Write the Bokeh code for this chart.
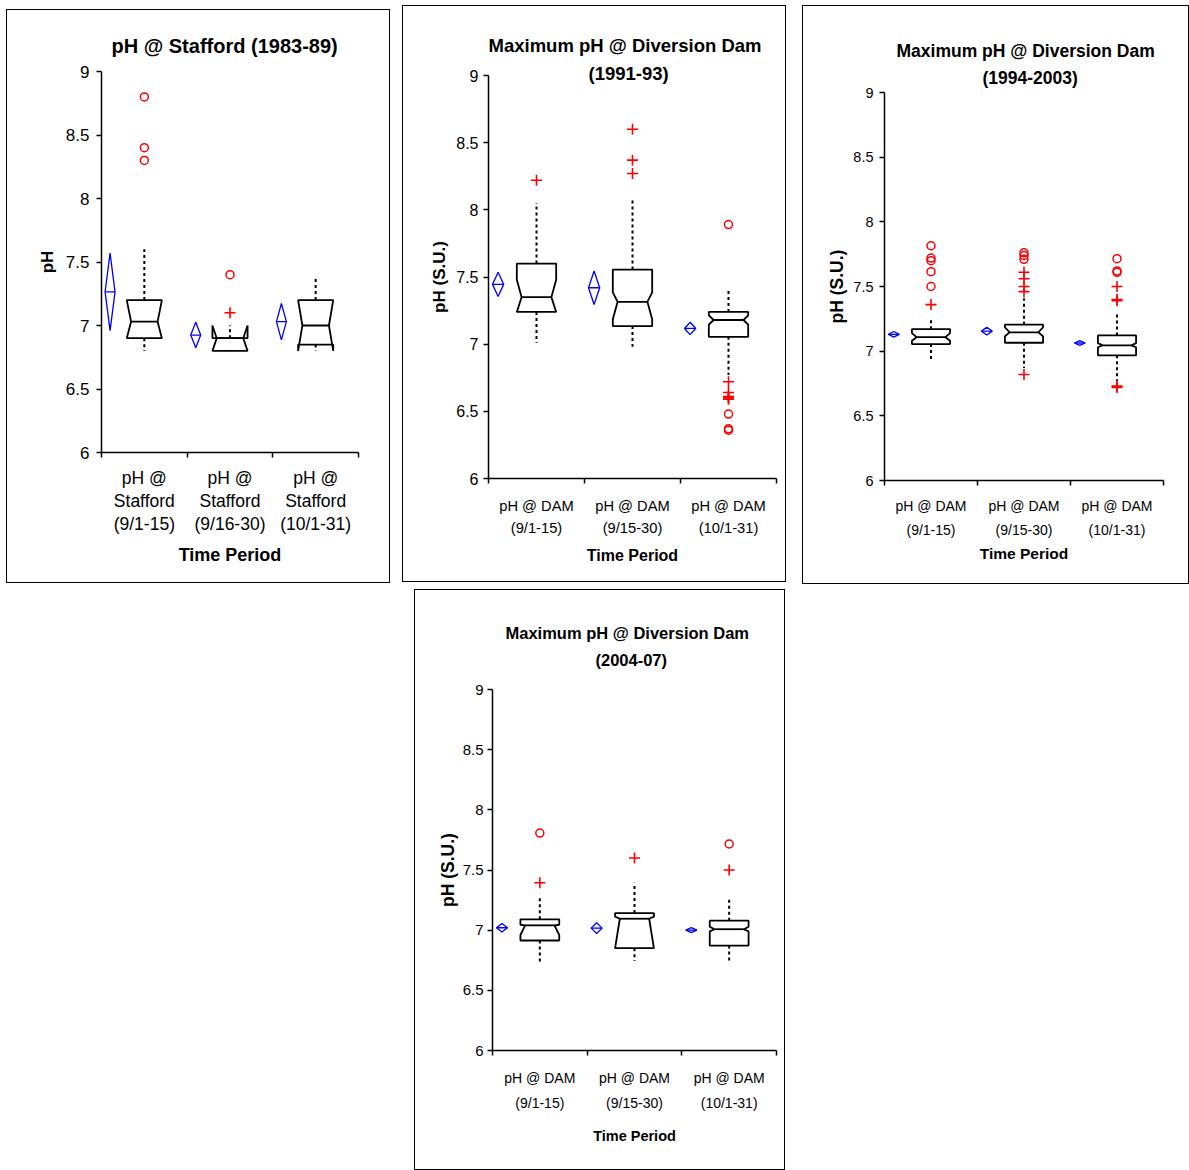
from bokeh.plotting import figure
from bokeh.models import Range1d, FixedTicker, CustomJSTickFormatter, Title
from bokeh.layouts import row, column
from bokeh.embed import file_html
from bokeh.resources import INLINE

# ---------------- data ----------------
Y_TICKS = [6.0, 6.5, 7.0, 7.5, 8.0, 8.5, 9.0]
CAT_CENTERS = [0.5, 1.5, 2.5]
CAT_EDGES = [0, 1, 2, 3]
X_TITLE = "Time Period"

# Panel 1: Stafford 1983-89
P1_TITLE = ["pH @ Stafford (1983-89)"]
P1_YLABEL = "pH"
P1_CATS = ["pH @\nStafford\n(9/1-15)", "pH @\nStafford\n(9/16-30)", "pH @\nStafford\n(10/1-31)"]
P1_MEAN = [7.265, 6.925, 7.03]
P1_MEAN_CI = [0.305, 0.10, 0.143]
P1_Q1 = [6.90, 6.80, 6.85]
P1_MED = [7.03, 6.90, 7.00]
P1_Q3 = [7.20, 6.90, 7.20]
P1_NOTCH_LO = [6.90, 6.80, 6.80]
P1_NOTCH_HI = [7.20, 7.00, 7.20]
P1_WHISK_LO = [6.80, 6.80, 6.80]
P1_WHISK_HI = [7.60, 7.00, 7.38]
P1_MILD_CAT = [1]
P1_MILD_VAL = [7.10]
P1_EXT_CAT = [0, 0, 0, 1]
P1_EXT_VAL = [8.80, 8.40, 8.30, 7.40]

# Panel 2: Diversion Dam 1991-93
P2_TITLE = ["Maximum pH @ Diversion Dam", "(1991-93)"]
P2_YLABEL = "pH (S.U.)"
P2_CATS = ["pH @ DAM\n(9/1-15)", "pH @ DAM\n(9/15-30)", "pH @ DAM\n(10/1-31)"]
P2_MEAN = [7.445, 7.42, 7.117]
P2_MEAN_CI = [0.09, 0.125, 0.046]
P2_Q1 = [7.24, 7.135, 7.055]
P2_MED = [7.35, 7.315, 7.18]
P2_Q3 = [7.60, 7.555, 7.24]
P2_NOTCH_LO = [7.24, 7.185, 7.145]
P2_NOTCH_HI = [7.48, 7.385, 7.215]
P2_WHISK_LO = [7.01, 6.98, 6.77]
P2_WHISK_HI = [8.05, 8.08, 7.40]
P2_MILD_CAT = [0, 1, 1, 1, 2, 2, 2, 2, 2]
P2_MILD_VAL = [8.22, 8.60, 8.37, 8.27, 6.72, 6.64, 6.61, 6.60, 6.59]
P2_EXT_CAT = [2, 2, 2, 2]
P2_EXT_VAL = [7.89, 6.48, 6.37, 6.36]

# Panel 3: Diversion Dam 1994-2003
P3_TITLE = ["Maximum pH @ Diversion Dam", "(1994-2003)"]
P3_YLABEL = "pH (S.U.)"
P3_CATS = ["pH @ DAM\n(9/1-15)", "pH @ DAM\n(9/15-30)", "pH @ DAM\n(10/1-31)"]
P3_MEAN = [7.13, 7.155, 7.063]
P3_MEAN_CI = [0.022, 0.03, 0.018]
P3_Q1 = [7.055, 7.065, 6.968]
P3_MED = [7.108, 7.145, 7.045]
P3_Q3 = [7.17, 7.205, 7.122]
P3_NOTCH_LO = [7.08, 7.115, 7.03]
P3_NOTCH_HI = [7.14, 7.185, 7.062]
P3_WHISK_LO = [6.93, 6.87, 6.77]
P3_WHISK_HI = [7.26, 7.41, 7.29]
P3_MILD_CAT = [0, 1, 1, 1, 1, 1, 2, 2, 2, 2, 2]
P3_MILD_VAL = [7.36, 7.61, 7.56, 7.50, 7.46, 6.82, 7.50, 7.40, 7.39, 6.73, 6.72]
P3_EXT_CAT = [0, 0, 0, 0, 0, 1, 1, 1, 2, 2, 2]
P3_EXT_VAL = [7.815, 7.72, 7.70, 7.615, 7.50, 7.76, 7.74, 7.71, 7.715, 7.62, 7.61]

# Panel 4: Diversion Dam 2004-07
P4_TITLE = ["Maximum pH @ Diversion Dam", "(2004-07)"]
P4_YLABEL = "pH (S.U.)"
P4_CATS = ["pH @ DAM\n(9/1-15)", "pH @ DAM\n(9/15-30)", "pH @ DAM\n(10/1-31)"]
P4_MEAN = [7.02, 7.017, 7.0]
P4_MEAN_CI = [0.036, 0.045, 0.021]
P4_Q1 = [6.914, 6.85, 6.872]
P4_MED = [7.04, 7.095, 7.008]
P4_Q3 = [7.09, 7.142, 7.079]
P4_NOTCH_LO = [6.96, 6.85, 6.99]
P4_NOTCH_HI = [7.045, 7.112, 7.029]
P4_WHISK_LO = [6.715, 6.743, 6.73]
P4_WHISK_HI = [7.274, 7.394, 7.263]
P4_MILD_CAT = [0, 1, 2]
P4_MILD_VAL = [7.394, 7.60, 7.50]
P4_EXT_CAT = [0, 2]
P4_EXT_VAL = [7.807, 7.716]

# ---------------- style / layout ----------------
BOX_HALF = 0.205
NOTCH_IN = 0.05
DIAM_OFF = 0.10
DIAM_HALF = 0.058
RED = "#ff0000"
BLUE = "#0000ff"
FONT = "Liberation Sans"

LAYOUTS = {
    1: dict(w=384, h=574, margin=(9, 0, 0, 6), ml=94, mr=33, mt=61, mb=132,
            title_size="20px", title_standoffs=[29], title_offsets=[10],
            tick_size="17.5px", ytick_size="17px", xlab_lh=1.17, xlab_standoff=10, ylab_standoff=7,
            axis_lab_size="18px", ylab_size="17px", yaxis_lab_standoff=6, xaxis_lab_standoff=8),
    2: dict(w=384, h=577, margin=(5, 0, 0, 12), ml=85, mr=11, mt=69, mb=105,
            title_size="18.5px", title_standoffs=[25, -16], title_offsets=[0, 100],
            tick_size="14.7px", ytick_size="16px", xlab_lh=1.4, xlab_standoff=14, ylab_standoff=5,
            axis_lab_size="16px", ylab_size="17px", yaxis_lab_standoff=4, xaxis_lab_standoff=8),
    3: dict(w=387, h=579, margin=(5, 0, 0, 16), ml=81, mr=27, mt=86, mb=105,
            title_size="17.5px", title_standoffs=[0, 10], title_offsets=[12, 98],
            tick_size="14px", ytick_size="14.5px", xlab_lh=1.53, xlab_standoff=12, ylab_standoff=6,
            axis_lab_size="15.5px", ylab_size="17.5px", yaxis_lab_standoff=3, xaxis_lab_standoff=4),
    4: dict(w=371, h=581, margin=(7, 0, 0, 24), ml=77, mr=10, mt=99, mb=121,
            title_size="16.5px", title_standoffs=[-29, 42], title_offsets=[13, 103],
            tick_size="14px", ytick_size="15px", xlab_lh=1.57, xlab_standoff=14, ylab_standoff=4,
            axis_lab_size="14.5px", ylab_size="17.5px", yaxis_lab_standoff=2, xaxis_lab_standoff=14),
}


def style_title(t, lay, i):
    t.align = "left"
    t.offset = lay["title_offsets"][i]
    t.standoff = lay["title_standoffs"][i]
    t.text_font = FONT
    t.text_font_size = lay["title_size"]
    t.text_font_style = "bold"
    t.text_color = "black"


def make_panel(lay, title, ylabel, cats, mean, ci, q1, med, q3, nlo, nhi, wlo, whi,
               mild_c, mild_v, ext_c, ext_v):
    p = figure(width=lay["w"], height=lay["h"], x_range=Range1d(0, 3), y_range=Range1d(6, 9),
               output_backend="svg", toolbar_location=None,
               min_border_left=lay["ml"], min_border_right=lay["mr"],
               min_border_top=lay["mt"], min_border_bottom=lay["mb"])
    p.margin = lay["margin"]
    p.styles = {"border": "1px solid black"}
    p.outline_line_color = None
    p.grid.visible = False
    p.background_fill_color = "white"
    p.border_fill_color = "white"

    # title lines: first line is the plot title, second line sits nearer the frame
    p.title.text = title[0]
    style_title(p.title, lay, 0)
    if len(title) > 1:
        t2 = Title(text=title[1])
        style_title(t2, lay, 1)
        p.add_layout(t2, "above")

    centers = [c for c in CAT_CENTERS]

    # whiskers (dotted)
    p.segment(x0=centers, y0=q3, x1=centers, y1=whi, line_color="black", line_width=2, line_dash="3 3")
    p.segment(x0=centers, y0=q1, x1=centers, y1=wlo, line_color="black", line_width=2, line_dash="3 3")

    # notched boxes
    xs, ys = [], []
    for i, c in enumerate(centers):
        L, R = c - BOX_HALF, c + BOX_HALF
        xs.append([L, R, R, R - NOTCH_IN, R, R, L, L, L + NOTCH_IN, L])
        ys.append([q1[i], q1[i], nlo[i], med[i], nhi[i], q3[i], q3[i], nhi[i], med[i], nlo[i]])
    p.patches(xs, ys, fill_color="white", line_color="black", line_width=1.8)
    p.segment(x0=[c - BOX_HALF + NOTCH_IN for c in centers], y0=med,
              x1=[c + BOX_HALF - NOTCH_IN for c in centers], y1=med,
              line_color="black", line_width=1.8)

    # mean diamonds
    dx = [c - 0.5 + DIAM_OFF for c in centers]
    dxs = [[d - DIAM_HALF, d, d + DIAM_HALF, d] for d in dx]
    dys = [[m, m + h, m, m - h] for m, h in zip(mean, ci)]
    p.patches(dxs, dys, fill_color=None, line_color=BLUE, line_width=1.3)
    p.segment(x0=[d - DIAM_HALF for d in dx], y0=mean, x1=[d + DIAM_HALF for d in dx], y1=mean,
              line_color=BLUE, line_width=1.3)

    # outliers
    p.scatter(x=[CAT_CENTERS[c] for c in mild_c], y=mild_v, marker="cross", size=11,
              line_color=RED, line_width=1.6)
    p.scatter(x=[CAT_CENTERS[c] for c in ext_c], y=ext_v, marker="circle", size=8,
              fill_color=None, line_color=RED, line_width=1.5)

    # x axis
    xa = p.xaxis[0]
    xa.ticker = FixedTicker(ticks=CAT_CENTERS, minor_ticks=CAT_EDGES)
    xa.formatter = CustomJSTickFormatter(args=dict(labels=cats),
                                         code="return labels[Math.floor(tick)];")
    xa.major_tick_in = 0
    xa.major_tick_out = 0
    xa.minor_tick_in = 0
    xa.minor_tick_out = 5
    xa.minor_tick_line_color = "black"
    xa.minor_tick_line_width = 1.5
    xa.axis_line_color = "black"
    xa.axis_line_width = 1.5
    xa.major_label_text_font = FONT
    xa.major_label_text_font_size = lay["tick_size"]
    xa.major_label_text_color = "black"
    xa.major_label_text_line_height = lay["xlab_lh"]
    xa.major_label_standoff = lay["xlab_standoff"]
    xa.axis_label = X_TITLE
    xa.axis_label_text_font = FONT
    xa.axis_label_text_font_size = lay["axis_lab_size"]
    xa.axis_label_text_font_style = "bold"
    xa.axis_label_text_color = "black"
    xa.axis_label_standoff = lay["xaxis_lab_standoff"]

    # y axis
    ya = p.yaxis[0]
    ya.ticker = FixedTicker(ticks=Y_TICKS)
    ya.formatter = CustomJSTickFormatter(code="return String(tick);")
    ya.minor_tick_line_color = None
    ya.major_tick_in = 0
    ya.major_tick_out = 5
    ya.major_tick_line_color = "black"
    ya.major_tick_line_width = 1.5
    ya.axis_line_color = "black"
    ya.axis_line_width = 1.5
    ya.major_label_text_font = FONT
    ya.major_label_text_font_size = lay["ytick_size"]
    ya.major_label_text_color = "black"
    ya.major_label_standoff = lay["ylab_standoff"]
    ya.axis_label = ylabel
    ya.axis_label_text_font = FONT
    ya.axis_label_text_font_size = lay["ylab_size"]
    ya.axis_label_text_font_style = "bold"
    ya.axis_label_text_color = "black"
    ya.axis_label_standoff = lay["yaxis_lab_standoff"]
    return p


p1 = make_panel(LAYOUTS[1], P1_TITLE, P1_YLABEL, P1_CATS, P1_MEAN, P1_MEAN_CI, P1_Q1, P1_MED, P1_Q3,
                P1_NOTCH_LO, P1_NOTCH_HI, P1_WHISK_LO, P1_WHISK_HI,
                P1_MILD_CAT, P1_MILD_VAL, P1_EXT_CAT, P1_EXT_VAL)
p2 = make_panel(LAYOUTS[2], P2_TITLE, P2_YLABEL, P2_CATS, P2_MEAN, P2_MEAN_CI, P2_Q1, P2_MED, P2_Q3,
                P2_NOTCH_LO, P2_NOTCH_HI, P2_WHISK_LO, P2_WHISK_HI,
                P2_MILD_CAT, P2_MILD_VAL, P2_EXT_CAT, P2_EXT_VAL)
p3 = make_panel(LAYOUTS[3], P3_TITLE, P3_YLABEL, P3_CATS, P3_MEAN, P3_MEAN_CI, P3_Q1, P3_MED, P3_Q3,
                P3_NOTCH_LO, P3_NOTCH_HI, P3_WHISK_LO, P3_WHISK_HI,
                P3_MILD_CAT, P3_MILD_VAL, P3_EXT_CAT, P3_EXT_VAL)
p4 = make_panel(LAYOUTS[4], P4_TITLE, P4_YLABEL, P4_CATS, P4_MEAN, P4_MEAN_CI, P4_Q1, P4_MED, P4_Q3,
                P4_NOTCH_LO, P4_NOTCH_HI, P4_WHISK_LO, P4_WHISK_HI,
                P4_MILD_CAT, P4_MILD_VAL, P4_EXT_CAT, P4_EXT_VAL)

layout = row(column(p1), column(row(p2), row(p4)), column(p3))

open("out.html", "w").write(file_html(layout, INLINE))
